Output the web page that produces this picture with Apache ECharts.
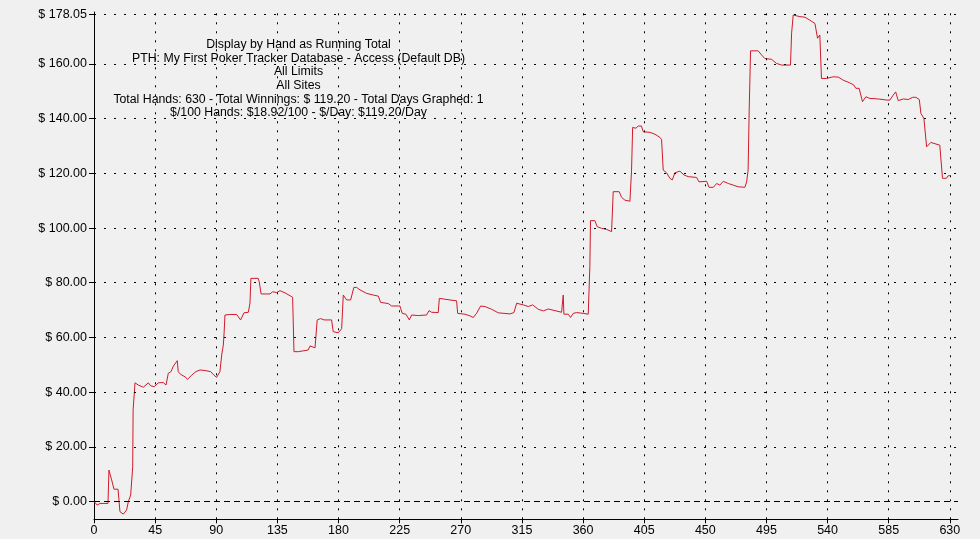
<!DOCTYPE html>
<html>
<head>
<meta charset="utf-8">
<script src="https://cdn.jsdelivr.net/npm/echarts@6/dist/echarts.min.js"></script>
<style>
html,body{margin:0;padding:0;background:#f0f0f0;}
#chart{width:980px;height:539px;}
</style>
</head>
<body>
<div id="chart"></div>
<script>
// Hand number (x) and running total in dollars (y)
var hands = [0,2.4,4.4,10.3,11,12.3,13,14.7,17.7,19.1,21.6,24,25.3,27,28.2,28.5,28.8,30.2,32.6,36.3,37.1,40,41.7,44.4,45,47.3,51,53,54.7,56.7,58.4,61.3,62,63.7,67,68.9,71.9,75,78,81.7,85.9,88.3,90.3,91.5,92.7,94,95.2,95.8,96.4,100,105,105.5,107.9,110.4,113.6,114.8,115.5,120.9,121.6,123,129.5,131.5,134.5,136.9,140.6,146.2,147.2,150.4,151.6,157.7,159,162.7,164.3,166.8,169.3,174.9,176.1,179.8,182.3,183.5,186,188.9,191.3,193.3,195.8,200.7,205.6,209.3,211,216.6,219.1,225.2,226.9,229.6,232.1,233.8,238.7,244.8,246.6,248.5,253.4,254.2,262,266.9,267.7,273,276.7,279.2,281.6,284.6,287.8,292.7,297.6,306.2,309.1,311.1,316,319.7,322.9,327,330.7,334.4,339.3,344.2,345.4,345.9,349.1,350.8,352.8,355.3,360.1,363.8,365,365.5,368.7,370.4,373.6,377.3,381,382.2,386.6,388.4,390.8,394.5,395.7,396.5,398.9,400.6,401.8,403,404.3,409.2,412.9,416.5,417.8,419,421.5,423.9,425.7,427.6,431.3,434.3,437.4,443.6,445.3,451,452.7,455.9,458.4,460.7,463.2,466.9,470.5,474.2,479.1,480.4,481.5,482.3,483.3,488.9,491.4,493.8,498.7,502.4,506.1,512.7,513.5,514.7,519.6,523.3,527,530.7,531.4,532.6,534.3,535.5,539.2,544.1,547.8,551.4,556.3,559.3,560.8,563.2,564.2,565.7,568.2,571.1,577.3,583.4,585.9,588.3,590.1,592,595.7,599.4,602.6,605,607.5,608.7,610.9,612.9,616,622.6,624.6,627.5,628.7,630];
var totals = [0,-1.3,-0.7,-0.7,11.5,11.5,7.9,4.5,4.5,-3.7,-4.6,-3.1,0,2.4,2.4,12.7,33.5,43.4,42.6,41.8,41.4,43.4,42.3,42,41.4,43.4,43.5,42.6,46.9,47.5,49.5,51.5,47.5,46.5,45.6,44.7,46.2,47.5,48.1,47.9,47.5,46.2,45.4,45.8,47.5,53.6,57.2,62,68.2,68.4,68.4,68.9,66.4,69,69.2,72.5,81.6,81.6,80.4,75.9,75.9,76.7,76.4,77.1,76.3,74.7,54.8,54.8,55.4,55.4,56.9,56.2,66.4,66.9,66.4,66.4,62.1,61.7,63.2,75.5,73.7,73.7,78.3,78.3,77.4,76.1,75.5,75.1,72.8,72.4,71.5,71.5,68.8,68.5,66.4,68.2,68.0,68.2,69.8,69.2,69.1,74.3,73.7,73.4,68.8,68.5,67.9,67.3,68.8,71.5,71.3,70.3,69.0,68.6,69.1,72.5,71.9,71.3,71.9,70.3,69.7,70.4,69.8,69.2,75.5,68.5,68.5,67.3,68.8,69.1,68.8,68.5,85.9,102.7,102.7,100.5,99.9,99.5,98.7,113.3,113.3,111.2,110.2,109.8,121.2,136.8,136.5,137.3,136.8,137.3,135.2,135,134.3,133.2,132.4,121.2,120.2,118.2,117.6,120.2,120.8,119.4,118.8,118.5,116.9,117.1,114.9,114.9,116.3,115.7,117.1,116.3,115.7,115.1,114.9,116.9,121.2,143.1,164.8,164.8,163.3,162.0,161.7,160.2,159.6,159.6,171.2,177.9,177.3,177.1,176.0,174.8,174.7,169.4,170.6,154.7,154.7,155.3,155.2,154.1,153.1,152.3,151.1,151.1,151.5,146.2,148.0,147.4,147.2,146.8,146.8,148.6,149.8,146.6,147.2,147.0,147.8,147.8,147.0,141.9,140.1,129.7,131.3,130.3,118.2,118.2,119.1,119.2];

var xTicks = [0,45,90,135,180,225,270,315,360,405,450,495,540,585,630];
var yTicks = [0,20,40,60,80,100,120,140,160,178.05];
var infoLines = [
  'Display by Hand as Running Total',
  'PTH: My First Poker Tracker Database - Access (Default DB)',
  'All Limits',
  'All Sites',
  'Total Hands: 630 - Total Winnings: $ 119.20 - Total Days Graphed: 1',
  '$/100 Hands: $18.92/100 - $/Day: $119.20/Day'
];

var X_MIN = 0, X_MAX = 636, Y_MIN = -6.5, Y_MAX = 179;
var points = hands.map(function(h, i){ return [h, totals[i]]; });
var FONT = '"Liberation Sans", Arial, sans-serif';

var gridMarks = [];
yTicks.forEach(function(v){
  if (v !== 0) gridMarks.push([{coord: [X_MIN, v]}, {coord: [X_MAX, v], lineStyle: {type: [2, 8], color: '#000', width: 1}}]);
});
xTicks.forEach(function(v){
  if (v !== 0) gridMarks.push([{coord: [v, Y_MIN]}, {coord: [v, Y_MAX], lineStyle: {type: [2, 7], color: '#000', width: 1}}]);
});
gridMarks.push([{coord: [X_MIN, 0]}, {coord: [X_MAX, 0], lineStyle: {type: [6, 4], color: '#000', width: 1}}]);

var chart = echarts.init(document.getElementById('chart'), null, {renderer: 'canvas'});
chart.setOption({
  animation: false,
  backgroundColor: '#f0f0f0',
  grid: {left: 94, right: 22, top: 12, bottom: 19.7, containLabel: false},
  xAxis: {
    type: 'value', min: X_MIN, max: X_MAX,
    axisLine: {show: true, onZero: false, lineStyle: {color: '#000', width: 1}},
    axisTick: {show: true, length: 4, customValues: xTicks, lineStyle: {color: '#000'}},
    axisLabel: {customValues: xTicks, margin: 5, color: '#000', fontSize: 12.5, fontFamily: FONT},
    splitLine: {show: false}
  },
  yAxis: {
    type: 'value', min: Y_MIN, max: Y_MAX,
    axisLine: {show: true, onZero: false, lineStyle: {color: '#000', width: 1}},
    axisTick: {show: true, length: 5, customValues: yTicks, lineStyle: {color: '#000'}},
    axisLabel: {customValues: yTicks, margin: 7, color: '#000', fontSize: 12.5, fontFamily: FONT,
      formatter: function(v){ return '$ ' + v.toFixed(2); }},
    splitLine: {show: false}
  },
  graphic: [{
    type: 'text', x: 298.5, y: 38, silent: true,
    style: {
      text: infoLines.join('\n'), fill: '#000', font: '12.3px ' + FONT,
      align: 'center', verticalAlign: 'top', lineHeight: 13.6
    }
  }],
  series: [
    {
      type: 'line', data: points, z: 1, silent: true, showSymbol: false,
      lineStyle: {opacity: 0},
      markLine: {silent: true, symbol: ['none','none'], label: {show: false}, animation: false,
        emphasis: {disabled: true}, data: gridMarks}
    },
    {
      type: 'line', data: points, z: 3, silent: true, showSymbol: false,
      lineStyle: {color: '#d01a2a', width: 1}
    }
  ]
});
</script>
</body>
</html>
